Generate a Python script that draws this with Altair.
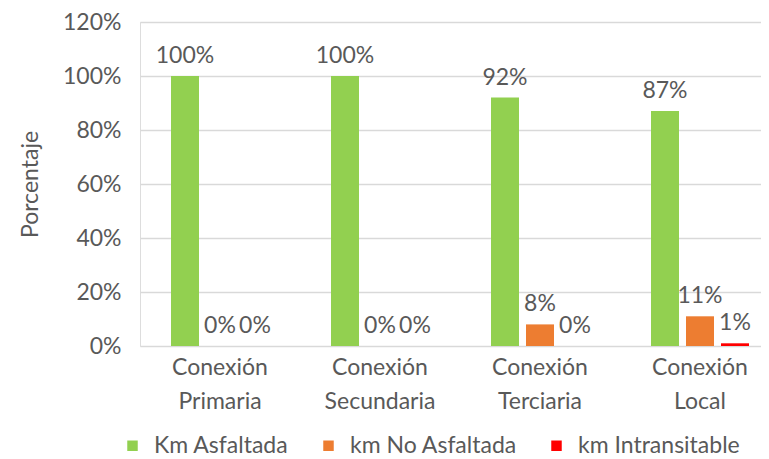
import altair as alt
import pandas as pd

categories = ["Conexión Primaria", "Conexión Secundaria", "Conexión Terciaria", "Conexión Local"]
series = ["Km Asfaltada", "km No Asfaltada", "km Intransitable"]
asfaltada = [1.00, 1.00, 0.92, 0.87]
no_asfaltada = [0.00, 0.00, 0.08, 0.11]
intransitable = [0.00, 0.00, 0.00, 0.01]
colors = ["#92D050", "#ED7D31", "#FF0000"]

rows = []
for s, vals in zip(series, [asfaltada, no_asfaltada, intransitable]):
    for c, v in zip(categories, vals):
        rows.append({"cat": c, "serie": s, "val": v})
df = pd.DataFrame(rows)

FONT = "Lato"
TXT = "#595959"
FS = 23

x = alt.X("cat:N", sort=categories, title=None,
          scale=alt.Scale(range=[0, 640], paddingInner=0, paddingOuter=0),
          axis=alt.Axis(labelExpr="split(datum.label, ' ')", labelAngle=0,
                        labelFontSize=FS, labelColor=TXT, labelFont=FONT,
                        labelLineHeight=34, labelPadding=10, ticks=False,
                        domain=False, labelBaseline="top"))
xo = alt.XOffset("serie:N", sort=series,
                 scale=alt.Scale(paddingInner=0.2, paddingOuter=0.886))
y = alt.Y("val:Q", title="Porcentaje",
          scale=alt.Scale(domain=[0, 1.2], nice=False),
          axis=alt.Axis(format=".0%", values=[0, 0.2, 0.4, 0.6, 0.8, 1.0, 1.2],
                        labelFontSize=FS, labelColor=TXT, labelFont=FONT,
                        labelPadding=19, ticks=False, domain=False,
                        gridColor="#D9D9D9", gridWidth=1.5,
                        titleFont=FONT, titleFontSize=FS, titleColor=TXT,
                        titleFontWeight="normal", titlePadding=20))
color = alt.Color("serie:N", sort=series,
                  scale=alt.Scale(domain=series, range=colors),
                  legend=alt.Legend(title=None, orient="none", direction="horizontal",
                                    legendX=-19, legendY=412, symbolType="square",
                                    symbolSize=110, labelFontSize=FS, labelColor=TXT,
                                    labelFont=FONT, columnPadding=28, labelOffset=10,
                                    labelLimit=400, symbolStrokeWidth=0))

bars = alt.Chart(df).mark_bar().encode(x=x, xOffset=xo, y=y, color=color)
labels = alt.Chart(df).mark_text(baseline="bottom", dy=-8, fontSize=FS,
                                 font=FONT, color=TXT).encode(
    x=alt.X("cat:N", sort=categories), xOffset=xo, y="val:Q",
    text=alt.Text("val:Q", format=".0%"))

chart = (bars + labels).properties(
    width=621, height=324,
    autosize=alt.AutoSizeParams(type="none"),
    padding={"left": 132, "top": 14, "right": 0, "bottom": 112},
).configure_view(stroke=None).configure(background="white")

chart.save("out.html", embed_options={"renderer": "svg", "actions": False})
